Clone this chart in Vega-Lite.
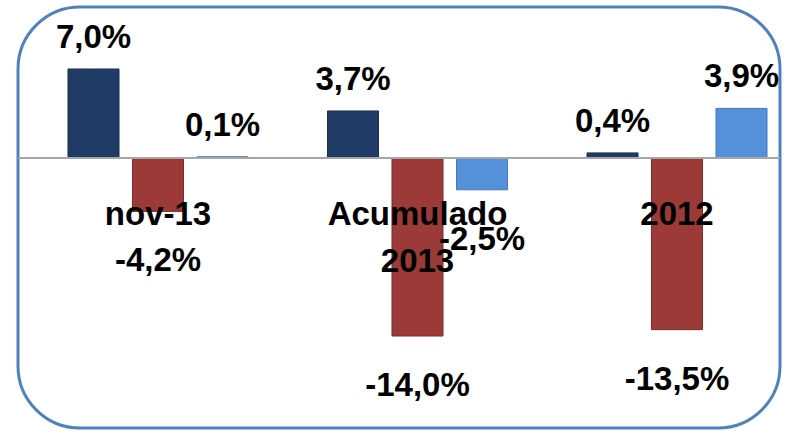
{
  "$schema": "https://vega.github.io/schema/vega-lite/v6.json",
  "autosize": "none",
  "width": 762,
  "height": 421,
  "padding": {"left": 18, "top": 7, "right": 12, "bottom": 3},
  "background": "white",
  "config": {
    "locale": {"number": {"decimal": ",", "thousands": ".", "grouping": [3], "currency": ["", " €"], "minus": "-"}},
    "view": {"stroke": "#4F81BD", "strokeWidth": 3, "cornerRadius": 62, "fill": "white"},
    "font": "Liberation Sans"
  },
  "data": {
    "values": [
      {"periodo": "nov-13", "serie": "Serie 1", "valor": 0.070},
      {"periodo": "nov-13", "serie": "Serie 2", "valor": -0.042},
      {"periodo": "nov-13", "serie": "Serie 3", "valor": 0.001},
      {"periodo": "Acumulado 2013", "serie": "Serie 1", "valor": 0.037},
      {"periodo": "Acumulado 2013", "serie": "Serie 2", "valor": -0.140},
      {"periodo": "Acumulado 2013", "serie": "Serie 3", "valor": -0.025},
      {"periodo": "2012", "serie": "Serie 1", "valor": 0.004},
      {"periodo": "2012", "serie": "Serie 2", "valor": -0.135},
      {"periodo": "2012", "serie": "Serie 3", "valor": 0.039}
    ]
  },
  "encoding": {
    "x": {
      "field": "periodo",
      "type": "nominal",
      "sort": ["nov-13", "Acumulado 2013", "2012"],
      "scale": {"range": [10.25, 788.75], "paddingInner": 0, "paddingOuter": 0},
      "axis": {
        "title": null,
        "orient": "bottom",
        "offset": -230,
        "domain": false,
        "ticks": false,
        "labelPadding": 0,
        "labelAngle": 0,
        "labelFont": "Liberation Sans",
        "labelFontSize": 33,
        "labelFontWeight": "bold",
        "labelColor": "#000000",
        "labelBaseline": "top",
        "labelLineHeight": 47,
        "labelExpr": "split(datum.label, ' ')",
        "labelOverlap": false,
        "zindex": 2
      }
    },
    "xOffset": {
      "field": "serie",
      "type": "nominal",
      "scale": {"paddingInner": 0.209, "paddingOuter": 0.616}
    },
    "y": {
      "field": "valor",
      "type": "quantitative",
      "stack": null,
      "scale": {"domain": [-0.21236, 0.11877], "nice": false, "zero": false},
      "axis": null
    }
  },
  "layer": [
    {
      "mark": {"type": "bar", "strokeWidth": 1},
      "encoding": {
        "color": {
          "field": "serie",
          "type": "nominal",
          "scale": {"domain": ["Serie 1", "Serie 2", "Serie 3"], "range": ["#1F3B66", "#9B3A37", "#5591D8"]},
          "legend": null
        },
        "stroke": {
          "field": "serie",
          "type": "nominal",
          "scale": {"domain": ["Serie 1", "Serie 2", "Serie 3"], "range": ["#16304F", "#7E2B29", "#4477B8"]},
          "legend": null
        }
      }
    },
    {
      "mark": {"type": "rule", "color": "#A6A6A6", "strokeWidth": 2},
      "encoding": {"x": null, "xOffset": null, "y": {"datum": 0, "type": "quantitative"}}
    },
    {
      "transform": [{"filter": "datum.valor >= 0"}],
      "mark": {"type": "text", "fontSize": 33, "fontWeight": "bold", "baseline": "alphabetic", "dy": -21, "color": "#000000"},
      "encoding": {"text": {"field": "valor", "type": "quantitative", "format": ".1%"}}
    },
    {
      "transform": [{"filter": "datum.valor < 0"}],
      "mark": {"type": "text", "fontSize": 33, "fontWeight": "bold", "baseline": "top", "dy": 34, "color": "#000000"},
      "encoding": {"text": {"field": "valor", "type": "quantitative", "format": ".1%"}}
    }
  ]
}
